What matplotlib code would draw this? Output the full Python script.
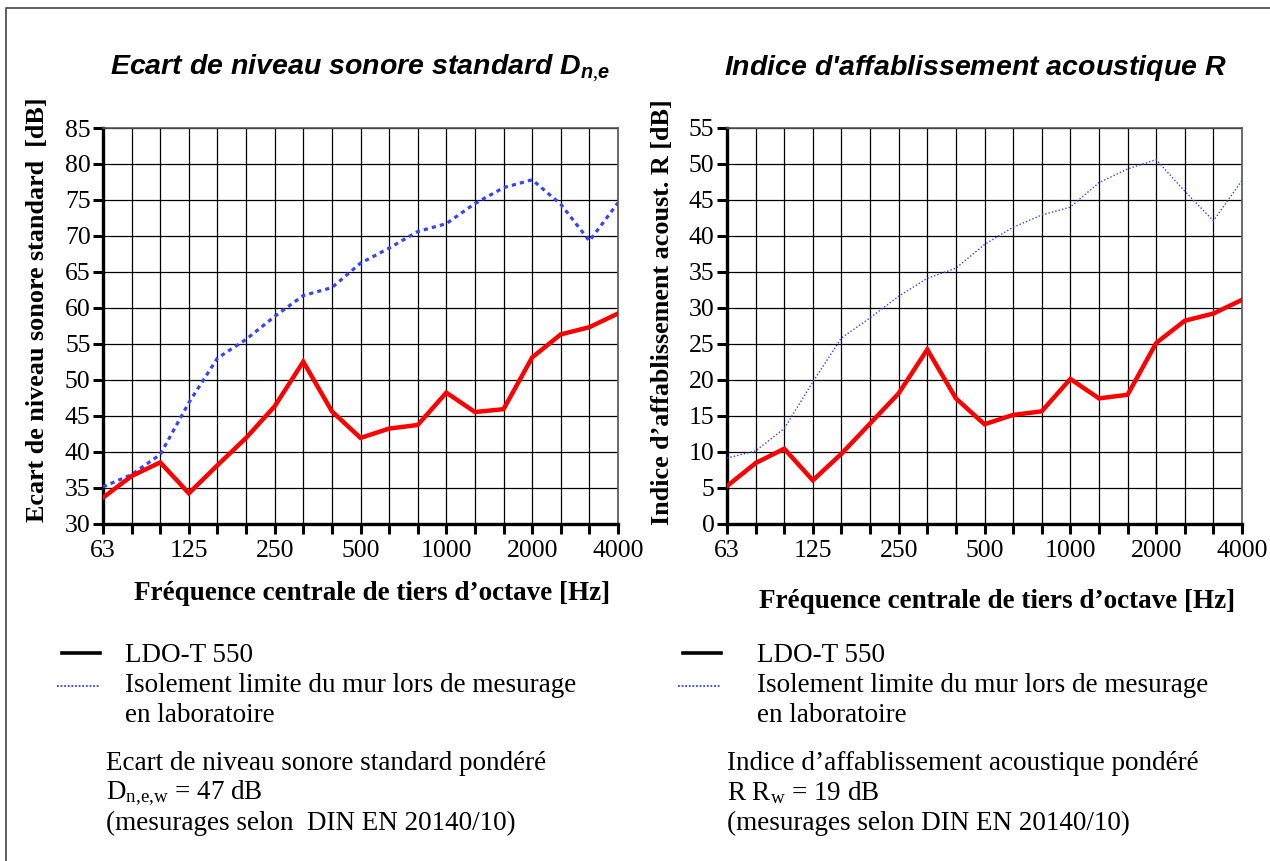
import numpy as np
import matplotlib.pyplot as plt
from matplotlib.lines import Line2D

# third-octave centre frequencies
freqs = [63, 80, 100, 125, 160, 200, 250, 315, 400, 500, 630, 800,
         1000, 1250, 1600, 2000, 2500, 3150, 4000]
tick_labels = ['63', '125', '250', '500', '1000', '2000', '4000']

# standardised level difference Dn,e [dB]
dne_ldo = [33.6, 36.6, 38.5, 34.2, 38.1, 41.9, 46.3, 52.5, 45.6, 41.9,
           43.2, 43.7, 48.2, 45.5, 45.9, 53.1, 56.3, 57.3, 59.2]
dne_limit = [35.1, 36.8, 39.6, 46.8, 53.0, 55.6, 58.8, 61.7, 62.8, 66.2,
             68.3, 70.6, 71.7, 74.5, 76.7, 77.8, 74.4, 69.3, 74.6]

# sound reduction index R [dB]
r_ldo = [5.2, 8.4, 10.4, 6.0, 9.7, 13.9, 18.1, 24.2, 17.4, 13.8,
         15.1, 15.6, 20.1, 17.4, 17.9, 25.1, 28.2, 29.2, 31.1]
r_limit = [9.1, 10.1, 13.2, 19.7, 25.8, 28.6, 31.6, 34.1, 35.5, 38.8,
           41.2, 42.9, 44.0, 47.4, 49.3, 50.6, 46.2, 42.1, 47.7]

W, H = 1270, 861
serif = 'Liberation Serif'
sans = 'Liberation Sans'
plt.rcParams['font.family'] = serif
plt.rcParams['mathtext.fontset'] = 'custom'
plt.rcParams['mathtext.rm'] = serif
plt.rcParams['mathtext.it'] = sans + ':italic:bold'

fig = plt.figure(figsize=(W / 100, H / 100), dpi=100)


def fx(x):
    return x / W


def fy(y):
    return 1 - y / H


def panel(x0, ymin, ymax, ldo, limit, blue_lw, blue_dash):
    ax = fig.add_axes([fx(x0), fy(523.5), fx(515), 395.5 / H])
    idx = np.arange(len(freqs))
    ax.plot(idx, limit, color='#3344ff', lw=blue_lw, linestyle=(0, blue_dash), zorder=3)
    ax.plot(idx, ldo, color='#ff0000', lw=3.2, solid_joinstyle='miter', zorder=4)
    ax.set_xlim(0, len(freqs) - 1)
    ax.set_ylim(ymin, ymax)
    ax.set_xticks(idx)
    lab = [str(f) if str(f) in tick_labels else '' for f in freqs]
    ax.set_xticklabels(lab)
    ax.set_yticks(np.arange(ymin, ymax + 1, 5))
    ax.grid(True, color='black', lw=0.9)
    ax.set_axisbelow(True)
    ax.tick_params(axis='both', direction='out', length=7, width=2.2,
                   labelsize=18.5, pad=2)
    ax.tick_params(axis='x', pad=5)
    for s in ['left', 'bottom']:
        ax.spines[s].set_linewidth(2.4)
    for s in ['top', 'right']:
        ax.spines[s].set_linewidth(1.2)
        ax.spines[s].set_color('#555555')
    return ax


panel(103, 30, 85, dne_ldo, dne_limit, 2.3, (1.3, 1.3))
panel(727, 0, 55, r_ldo, r_limit, 1.0, (1, 1.5))

# titles
fig.text(fx(360), fy(68), 'Ecart de niveau sonore standard $D_{n{,}e}$',
         family=sans, weight='bold', style='italic', fontsize=20.5,
         ha='center', va='center')
fig.text(fx(975), fy(68), "Indice d'affablissement acoustique $R$",
         family=sans, weight='bold', style='italic', fontsize=20.5,
         ha='center', va='center')

# axis labels
fig.text(fx(372), fy(594), 'Fréquence centrale de tiers d\u2019octave [Hz]',
         weight='bold', fontsize=19.5, ha='center', va='center')
fig.text(fx(997), fy(601), 'Fréquence centrale de tiers d\u2019octave [Hz]',
         weight='bold', fontsize=19.5, ha='center', va='center')
fig.text(fx(38), fy(310), 'Ecart de niveau sonore standard  [dB]',
         weight='bold', fontsize=18.8, rotation=90, ha='center', va='center')
fig.text(fx(662), fy(312), 'Indice d\u2019affablissement acoust. R [dB]',
         weight='bold', fontsize=18.8, rotation=90, ha='center', va='center')

# legends
for xl, xt in [(62, 125), (683, 757)]:
    fig.add_artist(Line2D([fx(xl), fx(xl + 38)], [fy(653), fy(653)],
                          color='black', lw=2.6))
    fig.add_artist(Line2D([fx(xl - 5), fx(xl + 38)], [fy(686), fy(686)],
                          color='#3344ff', lw=1.3, linestyle=(0, (1, 1))))
    fig.text(fx(xt), fy(655), 'LDO-T 550', fontsize=19.5, va='center')
    fig.text(fx(xt), fy(686), 'Isolement limite du mur lors de mesurage',
             fontsize=19.5, va='center')
    fig.text(fx(xt), fy(716), 'en laboratoire', fontsize=19.5, va='center')

fig.text(fx(106), fy(763), 'Ecart de niveau sonore standard pondéré', fontsize=19.5, va='center')
fig.text(fx(106), fy(793), r'$\mathrm{D_{n{,}e{,}w}}$ = 47 dB', fontsize=19.5, va='center')
fig.text(fx(106), fy(823), '(mesurages selon  DIN EN 20140/10)', fontsize=19.5, va='center')
fig.text(fx(727), fy(763), 'Indice d\u2019affablissement acoustique pondéré', fontsize=19.5, va='center')
fig.text(fx(727), fy(793), r'R $\mathrm{R_w}$ = 19 dB', fontsize=19.5, va='center')
fig.text(fx(727), fy(823), '(mesurages selon DIN EN 20140/10)', fontsize=19.5, va='center')

# frame around the figure (top and left edges visible)
fig.add_artist(Line2D([fx(6), fx(6), 1], [0, fy(8), fy(8)], color='#444444', lw=1.2))

fig.savefig('out.png', dpi=100)
